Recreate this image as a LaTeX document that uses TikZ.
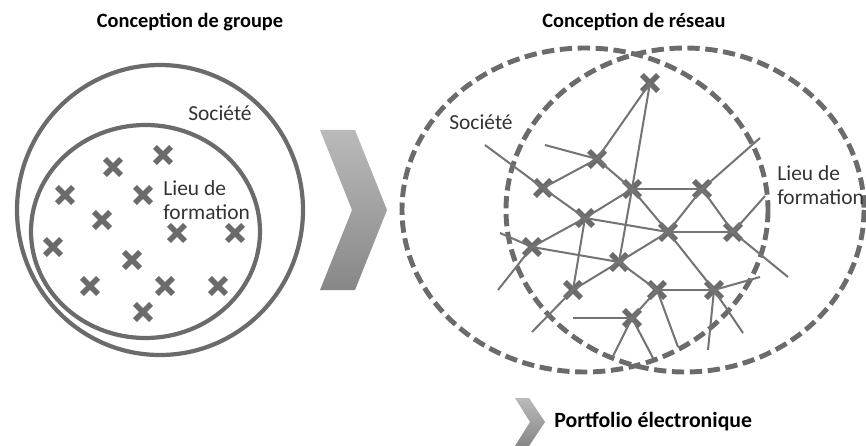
\documentclass[tikz,border=0pt]{standalone}
\usepackage{fontspec}
\setmainfont{Carlito}
\usepackage{xcolor}
\usetikzlibrary{shapes.misc}

\definecolor{ring}{HTML}{6B6B6B}
\definecolor{wire}{HTML}{747474}

\tikzset{
  xmark/.style={cross out,draw=ring,line width=3.2pt,minimum size=6pt,inner sep=0pt},
  wire/.style={draw=wire,line width=1.15pt},
  ring/.style={draw=ring,line width=2.4pt},
  dashring/.style={draw=ring,line width=2.8pt,dash pattern=on 7pt off 3.2pt},
  title/.style={font=\bfseries\fontsize{11.6}{13}\selectfont},
  tag/.style={font=\fontsize{12.2}{13.6}\selectfont,text=black!80,inner sep=0pt}
}

\begin{document}
\begin{tikzpicture}[x=0.02cm,y=-0.02cm]
\useasboundingbox (0,0) rectangle (866,446);

% titles
\node (t1) at (190,22) [title] {Conception de groupe};
\node (t2) at (634,22) [title] {Conception de réseau};

% group view
\draw [ring] (160,210) ellipse [x radius=143,y radius=145];
\draw [ring] (145.5,231.5) ellipse [x radius=114.5,y radius=106.5];
\node (s1) at (220,113) [tag] {Société};
\node (l1) at (163,200) [tag,anchor=west,align=left] {Lieu de\\formation};

\node (g1) at (163,155) [xmark] {};
\node (g2) at (113,167) [xmark] {};
\node (g3) at (65,195) [xmark] {};
\node (g4) at (143,195) [xmark] {};
\node (g5) at (102,220) [xmark] {};
\node (g6) at (177,233) [xmark] {};
\node (g7) at (235,233) [xmark] {};
\node (g8) at (53,247) [xmark] {};
\node (g9) at (132,260) [xmark] {};
\node (g10) at (90,286) [xmark] {};
\node (g11) at (165,286) [xmark] {};
\node (g12) at (218,286) [xmark] {};
\node (g13) at (143,312) [xmark] {};

% big chevron
\shade [top color=black!27,bottom color=black!47] (320,130) -- (355,130) -- (387,210) -- (355,290) -- (320,290) -- (352,210) -- cycle;

% network view
\draw [dashring] (585,210) ellipse [x radius=183,y radius=162];
\draw [dashring] (685,210) ellipse [x radius=179,y radius=162];
\node (s2) at (481,122) [tag] {Société};
\node (l2) at (777,185) [tag,anchor=west,align=left] {Lieu de\\formation};

\node (r1) at (650,83) [xmark] {};
\node (r2) at (597,159) [xmark] {};
\node (r3) at (543,188) [xmark] {};
\node (r4) at (632,189) [xmark] {};
\node (r5) at (702,189) [xmark] {};
\node (r6) at (585,218) [xmark] {};
\node (r7) at (668,232) [xmark] {};
\node (r8) at (733,232) [xmark] {};
\node (r9) at (532,247) [xmark] {};
\node (r10) at (619,262) [xmark] {};
\node (r11) at (573,290) [xmark] {};
\node (r12) at (657,290) [xmark] {};
\node (r13) at (714,290) [xmark] {};
\node (r14) at (632,318) [xmark] {};

\coordinate (o1) at (545,145);
\coordinate (o2) at (485,145);
\coordinate (o3) at (760,138);
\coordinate (o4) at (765,196);
\coordinate (o5) at (788,277);
\coordinate (o6) at (500,233);
\coordinate (o7) at (498,290);
\coordinate (o8) at (532,332);
\coordinate (o9) at (678,347);
\coordinate (o10) at (760,277);
\coordinate (o11) at (743,333);
\coordinate (o12) at (708,350);
\coordinate (o13) at (573,318);
\coordinate (o14) at (612,358);
\coordinate (o15) at (653,358);

\draw [wire] (r1.center) -- (r2.center);
\draw [wire] (r1.center) -- (r4.center);
\draw [wire] (r2.center) -- (r3.center);
\draw [wire] (r2.center) -- (r4.center);
\draw [wire] (r2.center) -- (o1);
\draw [wire] (r3.center) -- (o2);
\draw [wire] (r3.center) -- (r6.center);
\draw [wire] (r4.center) -- (r5.center);
\draw [wire] (r4.center) -- (r6.center);
\draw [wire] (r4.center) -- (r7.center);
\draw [wire] (r4.center) -- (r10.center);
\draw [wire] (r5.center) -- (r7.center);
\draw [wire] (r5.center) -- (r8.center);
\draw [wire] (r5.center) -- (o3);
\draw [wire] (r6.center) -- (r7.center);
\draw [wire] (r6.center) -- (r9.center);
\draw [wire] (r6.center) -- (r11.center);
\draw [wire] (r7.center) -- (r8.center);
\draw [wire] (r7.center) -- (r10.center);
\draw [wire] (r7.center) -- (r13.center);
\draw [wire] (r8.center) -- (o4);
\draw [wire] (r8.center) -- (o5);
\draw [wire] (r9.center) -- (r10.center);
\draw [wire] (r9.center) -- (o6);
\draw [wire] (r9.center) -- (o7);
\draw [wire] (r10.center) -- (r11.center);
\draw [wire] (r10.center) -- (r12.center);
\draw [wire] (r11.center) -- (o8);
\draw [wire] (r12.center) -- (r13.center);
\draw [wire] (r12.center) -- (r14.center);
\draw [wire] (r12.center) -- (o9);
\draw [wire] (r13.center) -- (o10);
\draw [wire] (r13.center) -- (o11);
\draw [wire] (r13.center) -- (o12);
\draw [wire] (r14.center) -- (o13);
\draw [wire] (r14.center) -- (o14);
\draw [wire] (r14.center) -- (o15);

% legend
\shade [top color=black!27,bottom color=black!47] (515,398) -- (529,398) -- (545,422) -- (529,446) -- (515,446) -- (530,422) -- cycle;
\node (p1) at (554,422) [title,anchor=west,inner sep=0pt,font=\bfseries\fontsize{12.4}{14}\selectfont] {Portfolio électronique};
\end{tikzpicture}
\end{document}
